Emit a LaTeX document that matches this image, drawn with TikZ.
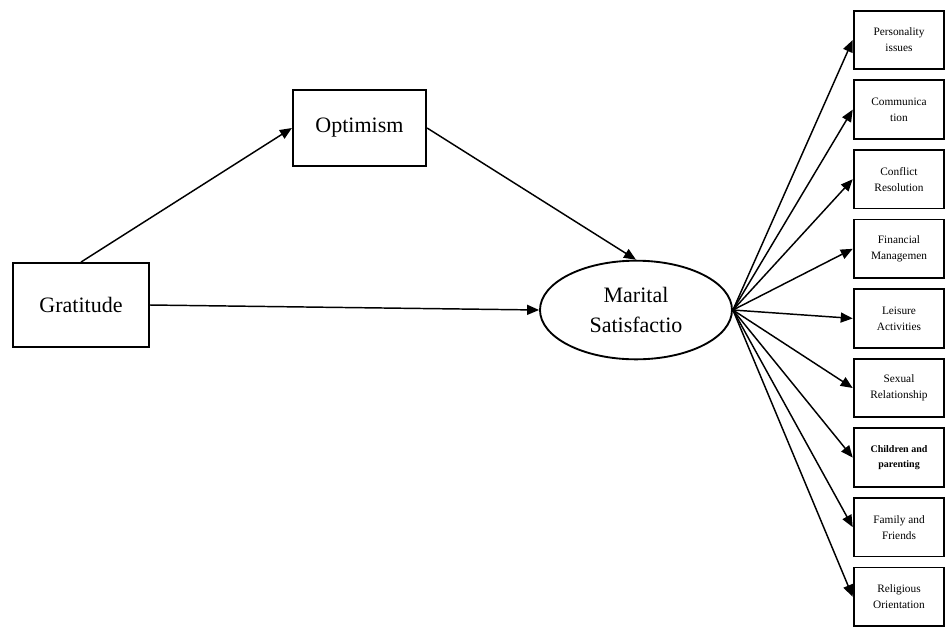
\documentclass[tikz,border=0pt]{standalone}
\usepackage{fontspec}
\setmainfont{Liberation Serif}
\usetikzlibrary{shapes.geometric, arrows.meta, positioning}

\begin{document}
\begin{tikzpicture}[
    x=0.75pt, y=-0.75pt,
    node distance=6.8pt,
    construct/.style={rectangle, draw, line width=1.4pt, minimum width=102pt, minimum height=63pt, text centered, font=\fontsize{16.5}{22}\selectfont},
    latent/.style={ellipse, draw, line width=1.4pt, minimum width=144pt, minimum height=74pt, inner sep=0pt, align=center, font=\fontsize{16.5}{22}\selectfont},
    itembox/.style={rectangle, draw, line width=1.4pt, minimum width=68pt, minimum height=44pt, inner sep=1pt, align=center, font=\fontsize{8.5}{12}\selectfont},
    effect/.style={-{Triangle[length=9pt, width=7.5pt]}, line width=1.1pt}
]
    \useasboundingbox (0,0) rectangle (947,626);

    % Predictor and mediator
    \node[construct] (grat) at (81,305) {Gratitude};
    \node[construct, minimum width=100pt, minimum height=57pt] (opt) at (359.5,128) {Optimism};

    % Outcome
    \node[latent] (ms) at (636,310) {Marital\\Satisfactio};

    % Domains of marital satisfaction
    \node[itembox] (d1) at (899,40) {Personality\\issues};
    \node[itembox, below=of d1] (d2) {Communica\\tion};
    \node[itembox, below=of d2] (d3) {Conflict\\Resolution};
    \node[itembox, below=of d3] (d4) {Financial\\Managemen};
    \node[itembox, below=of d4] (d5) {Leisure\\Activities};
    \node[itembox, below=of d5] (d6) {Sexual\\Relationship};
    \node[itembox, below=of d6, font=\fontsize{7.5}{11}\selectfont\bfseries] (d7) {Children and\\parenting};
    \node[itembox, below=of d7] (d8) {Family and\\Friends};
    \node[itembox, below=of d8] (d9) {Religious\\Orientation};

    % Paths
    \draw[effect] (grat.north) -- (opt.west);
    \draw[effect] (grat.east) -- (ms.west);
    \draw[effect] (opt.east) -- (ms.north);

    % Loadings
    \draw[effect] (ms.east) -- (d1.west);
    \draw[effect] (ms.east) -- (d2.west);
    \draw[effect] (ms.east) -- (d3.west);
    \draw[effect] (ms.east) -- (d4.west);
    \draw[effect] (ms.east) -- (d5.west);
    \draw[effect] (ms.east) -- (d6.west);
    \draw[effect] (ms.east) -- (d7.west);
    \draw[effect] (ms.east) -- (d8.west);
    \draw[effect] (ms.east) -- (d9.west);
\end{tikzpicture}
\end{document}
